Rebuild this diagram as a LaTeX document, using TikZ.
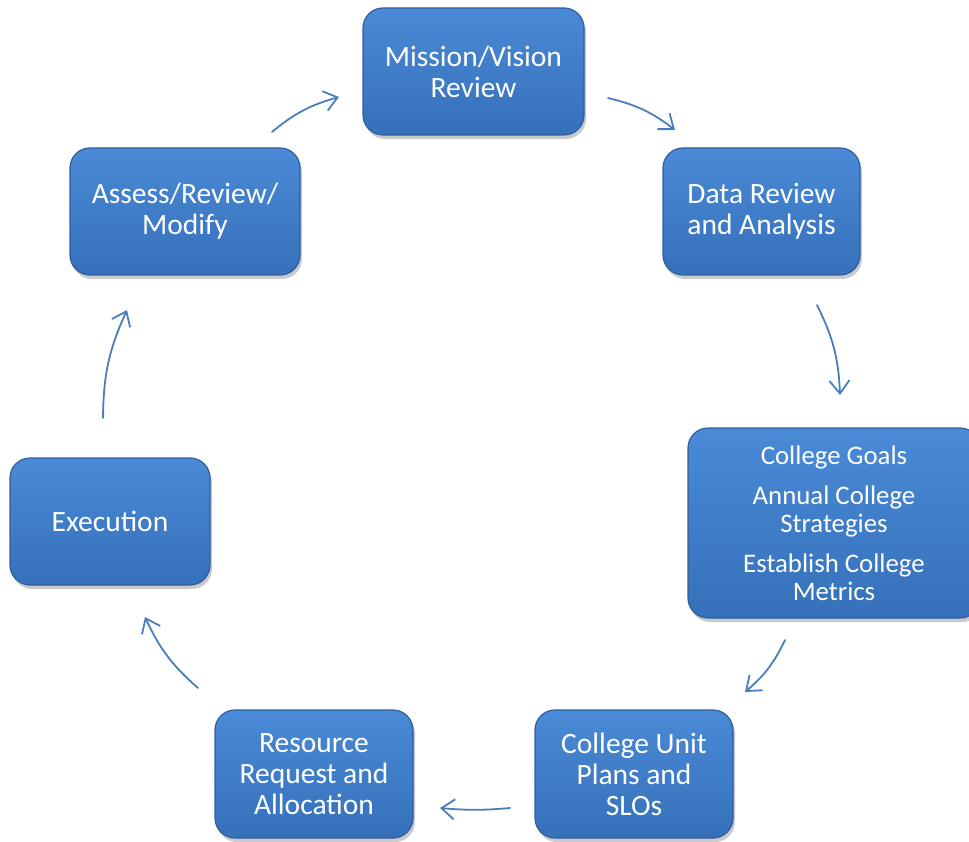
\documentclass[tikz,border=0pt]{standalone}
\usepackage{fontspec}
\setmainfont{Carlito}
\usetikzlibrary{arrows.meta,shadows,positioning}
\definecolor{boxtop}{HTML}{4A8AD6}
\definecolor{boxbot}{HTML}{3670BA}
\definecolor{boxedge}{HTML}{2E5E9E}
\definecolor{arrowc}{HTML}{4A7EBB}
\tikzset{
  stepbox/.style={rounded corners=20pt, top color=boxtop, bottom color=boxbot,
    draw=boxedge, line width=1.2pt, text=white, align=center,
    font=\fontsize{29.5}{31}\selectfont, inner sep=0pt,
    drop shadow={shadow xshift=2pt, shadow yshift=-4pt, opacity=0.35, fill=black!60}},
  flow/.style={draw=arrowc, line width=1.8pt, line cap=round,
    -{Straight Barb[length=13pt,width=20pt,line width=1.8pt]}, bend left=12}
}
\begin{document}
\begin{tikzpicture}[x=1pt,y=-1pt]
\useasboundingbox (0,0) rectangle (969,842);
\node[stepbox, minimum width=221pt, minimum height=127pt] (mission) at (473.5,71.5) {Mission/Vision\\Review};
\node[stepbox, minimum width=197pt, minimum height=127pt] (data) at (761.5,211.5) {Data Review\\and Analysis};
\node[stepbox, minimum width=292pt, minimum height=190pt, font=\fontsize{26.8}{28}\selectfont] (goals) at (834,523)
  {College Goals\\[12pt]Annual College\\Strategies\\[12pt]Establish College\\Metrics};
\node[stepbox, minimum width=198pt, minimum height=128pt] (unit) at (634,774) {College Unit\\Plans and\\SLOs};
\node[stepbox, minimum width=198pt, minimum height=128pt] (resource) at (314,774) {Resource\\Request and\\Allocation};
\node[stepbox, minimum width=200pt, minimum height=127pt] (exec) at (110,521.5) {Execution};
\node[stepbox, minimum width=230pt, minimum height=127pt] (assess) at (185,211.5) {Assess/Review/\\Modify};

\coordinate (a1s) at (272,132); \coordinate (a1e) at (339,97);
\coordinate (a2s) at (608,98);  \coordinate (a2e) at (675,130);
\coordinate (a3s) at (817,305); \coordinate (a3e) at (840,395);
\coordinate (a4s) at (785,640); \coordinate (a4e) at (745,692);
\coordinate (a5s) at (510,808); \coordinate (a5e) at (440,808);
\coordinate (a6s) at (198,688); \coordinate (a6e) at (145,617);
\coordinate (a7s) at (103,418); \coordinate (a7e) at (127,310);
\draw[flow] (a1s) to (a1e);
\draw[flow] (a2s) to (a2e);
\draw[flow] (a3s) to (a3e);
\draw[flow] (a4s) to (a4e);
\draw[flow, bend left=5] (a5s) to (a5e);
\draw[flow] (a6s) to (a6e);
\draw[flow] (a7s) to (a7e);
\end{tikzpicture}
\end{document}
